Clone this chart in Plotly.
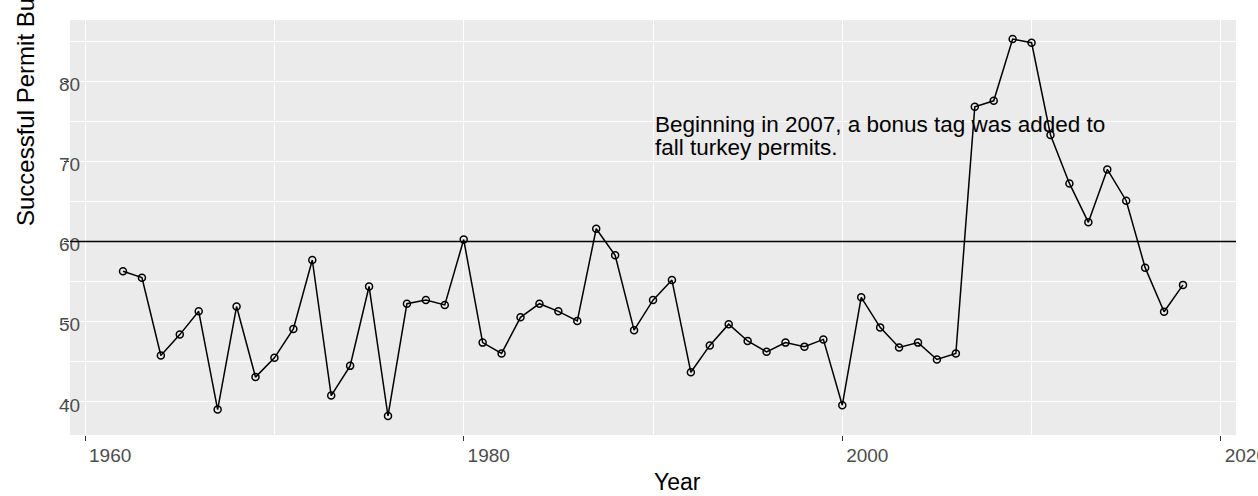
import plotly.graph_objects as go

# Fall turkey hunting: share of permit buyers who were successful, by year
years = list(range(1962, 2019))
success_pct = [
    56.3, 55.5, 45.8, 48.4, 51.3, 39.05, 51.9, 43.1, 45.5, 49.1,
    57.7, 40.8, 44.5, 54.4, 38.25, 52.25, 52.7, 52.1, 60.25, 47.4,
    46.05, 50.55, 52.25, 51.3, 50.1, 61.6, 58.3, 48.95, 52.7, 55.2,
    43.7, 47.05, 49.7, 47.6, 46.25, 47.4, 46.9, 47.8, 39.6, 53.05,
    49.3, 46.8, 47.4, 45.3, 46.05, 76.8, 77.55, 85.25, 84.8, 73.3,
    67.25, 62.4, 69.0, 65.1, 56.75, 51.25, 54.6,
]
reference_level = 60

x_ticks = [1960, 1980, 2000, 2020]
y_ticks = [40, 50, 60, 70, 80]

note_lines = [
    "Beginning in 2007, a bonus tag was added to",
    "fall turkey permits.",
]
note_x = 1990

# figure geometry (pixels)
W, H = 1258, 496
ML, MR, MT, MB = 70, 22, 20, 61
PW, PH = W - ML - MR, H - MT - MB


def px_x(p):
    return (p - ML) / PW


def px_y(p):
    return (H - MB - p) / PH


FONT = "Liberation Sans, Arial, sans-serif"
TICK_COLOR = "#4D4D4D"

fig = go.Figure()
fig.add_trace(go.Scatter(
    x=years, y=success_pct,
    mode="lines+markers",
    line=dict(color="black", width=1.5),
    marker=dict(symbol="circle-open", size=7, color="black",
                line=dict(width=1.5, color="black")),
    showlegend=False,
    hoverinfo="x+y",
))

fig.add_hline(y=reference_level, line=dict(color="black", width=1.4), layer="above")

fig.update_layout(
    width=W, height=H,
    margin=dict(l=ML, r=MR, t=MT, b=MB, autoexpand=False),
    paper_bgcolor="white",
    plot_bgcolor="#EBEBEB",
    font=dict(family=FONT, color="black"),
    showlegend=False,
)

fig.update_xaxes(
    range=[1959.2, 2020.8],
    tickmode="array", tickvals=x_ticks, ticktext=[str(v) for v in x_ticks],
    ticks="outside", ticklen=5, tickwidth=1.3, tickcolor="#333333",
    tickfont=dict(family=FONT, size=19, color=TICK_COLOR),
    ticklabelshift=25, ticklabelstandoff=-2, ticklabeloverflow="allow",
    showgrid=True, gridcolor="white", gridwidth=1.4,
    minor=dict(dtick=10, tick0=1960, showgrid=True, gridcolor="white", gridwidth=1.1),
    zeroline=False, showline=False, automargin=False,
)

fig.update_yaxes(
    range=[35.88, 87.63],
    tickmode="array", tickvals=y_ticks, ticktext=[str(v) for v in y_ticks],
    ticks="outside", ticklen=5, tickwidth=1.3, tickcolor="#333333",
    tickfont=dict(family=FONT, size=19, color=TICK_COLOR),
    ticklabelstandoff=-20, ticklabelshift=3, ticklabeloverflow="allow",
    showgrid=True, gridcolor="white", gridwidth=1.4,
    minor=dict(dtick=5, tick0=0, showgrid=True, gridcolor="white", gridwidth=1.1),
    zeroline=False, showline=False, automargin=False,
)

annotations = [
    # axis titles, starting at the centre of the panel
    dict(text="Year", xref="paper", yref="paper",
         x=px_x(652), y=px_y(482), xanchor="left", yanchor="middle",
         showarrow=False, font=dict(family=FONT, size=23, color="black")),
    dict(text="Successful Permit Buyers (%)", xref="paper", yref="paper",
         x=px_x(25.5), y=px_y(228), xanchor="center", yanchor="bottom",
         textangle=-90, showarrow=False,
         font=dict(family=FONT, size=24, color="black")),
]
# two-line note, one annotation per line for tight leading
for line, yc in zip(note_lines, [124.7, 147.4]):
    annotations.append(dict(
        text=line, xref="x", yref="paper",
        x=note_x, y=px_y(yc), xanchor="left", yanchor="middle",
        showarrow=False, font=dict(family=FONT, size=22.5, color="black"),
    ))
fig.update_layout(annotations=annotations)

fig.write_html("out.html")
